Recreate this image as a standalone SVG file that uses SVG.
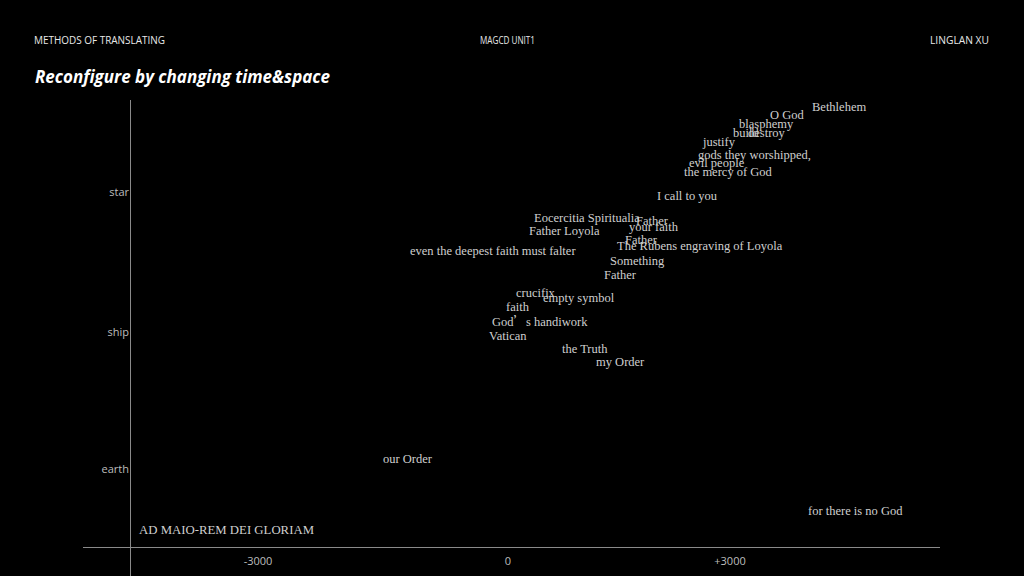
<svg xmlns="http://www.w3.org/2000/svg" width="1024" height="576" viewBox="0 0 1024 576">
<style>
.hd{font-family:"Open Sans","Liberation Sans",sans-serif;font-size:10px;fill:#e8e8e8}
.ttl{font-family:"Open Sans","Liberation Sans",sans-serif;font-size:17px;font-weight:bold;font-style:italic;fill:#fff}
.ax{font-family:"Open Sans","Liberation Sans",sans-serif;font-size:11px;fill:#bdbdbd}
.w{font-family:"Liberation Serif","DejaVu Serif",serif;font-size:12.5px;fill:#cfcfcf}
.axis{stroke:#8a8a8a;stroke-width:1;fill:none}
</style>
<rect width="1024" height="576" fill="#000"/>
<g id="header">
<text class="hd" x="34" y="44" textLength="131" lengthAdjust="spacingAndGlyphs">METHODS OF TRANSLATING</text>
<text class="hd" x="480" y="44" textLength="55" lengthAdjust="spacingAndGlyphs">MAGCD UNIT1</text>
<text class="hd" x="930" y="44" textLength="59" lengthAdjust="spacingAndGlyphs">LINGLAN XU</text>
<text class="ttl" x="35" y="83" textLength="295" lengthAdjust="spacingAndGlyphs">Reconfigure by changing time&amp;space</text>
</g>
<g id="axes">
<line class="axis" x1="130.5" y1="100" x2="130.5" y2="576"/>
<line class="axis" x1="83" y1="547.5" x2="940" y2="547.5"/>
<text class="ax" x="129" y="196" text-anchor="end">star</text>
<text class="ax" x="129" y="336" text-anchor="end">ship</text>
<text class="ax" x="129" y="473" text-anchor="end">earth</text>
<text class="ax" x="258" y="565" text-anchor="middle">-3000</text>
<text class="ax" x="508" y="565" text-anchor="middle">0</text>
<text class="ax" x="730" y="565" text-anchor="middle">+3000</text>
</g>
<g id="words">
<text class="w" x="812" y="111">Bethlehem</text>
<text class="w" x="770" y="119">O God</text>
<text class="w" x="739" y="128">blasphemy</text>
<text class="w" x="733" y="137">build</text>
<text class="w" x="748" y="137">destroy</text>
<text class="w" x="703" y="146">justify</text>
<text class="w" x="698" y="159">gods they worshipped,</text>
<text class="w" x="689" y="167">evil people</text>
<text class="w" x="684" y="176">the mercy of God</text>
<text class="w" x="657" y="200">I call to you</text>
<text class="w" x="534" y="222">Eocercitia Spiritualia</text>
<text class="w" x="636" y="225">Father</text>
<text class="w" x="629" y="231">your faith</text>
<text class="w" x="529" y="235">Father Loyola</text>
<text class="w" x="625" y="244">Father</text>
<text class="w" x="617" y="250">The Rubens engraving of Loyola</text>
<text class="w" x="410" y="255">even the deepest faith must falter</text>
<text class="w" x="610" y="265">Something</text>
<text class="w" x="604" y="279">Father</text>
<text class="w" x="516" y="297">crucifix</text>
<text class="w" x="543" y="302">empty symbol</text>
<text class="w" x="506" y="311">faith</text>
<text class="w" x="492" y="326">God<tspan font-family="'Noto Sans CJK SC',sans-serif">’</tspan>s handiwork</text>
<text class="w" x="489" y="340">Vatican</text>
<text class="w" x="562" y="353">the Truth</text>
<text class="w" x="596" y="366">my Order</text>
<text class="w" x="383" y="463">our Order</text>
<text class="w" x="808" y="515">for there is no God</text>
<text class="w" x="139" y="534" textLength="175" lengthAdjust="spacingAndGlyphs">AD MAIO-REM DEI GLORIAM</text>
</g>
</svg>
